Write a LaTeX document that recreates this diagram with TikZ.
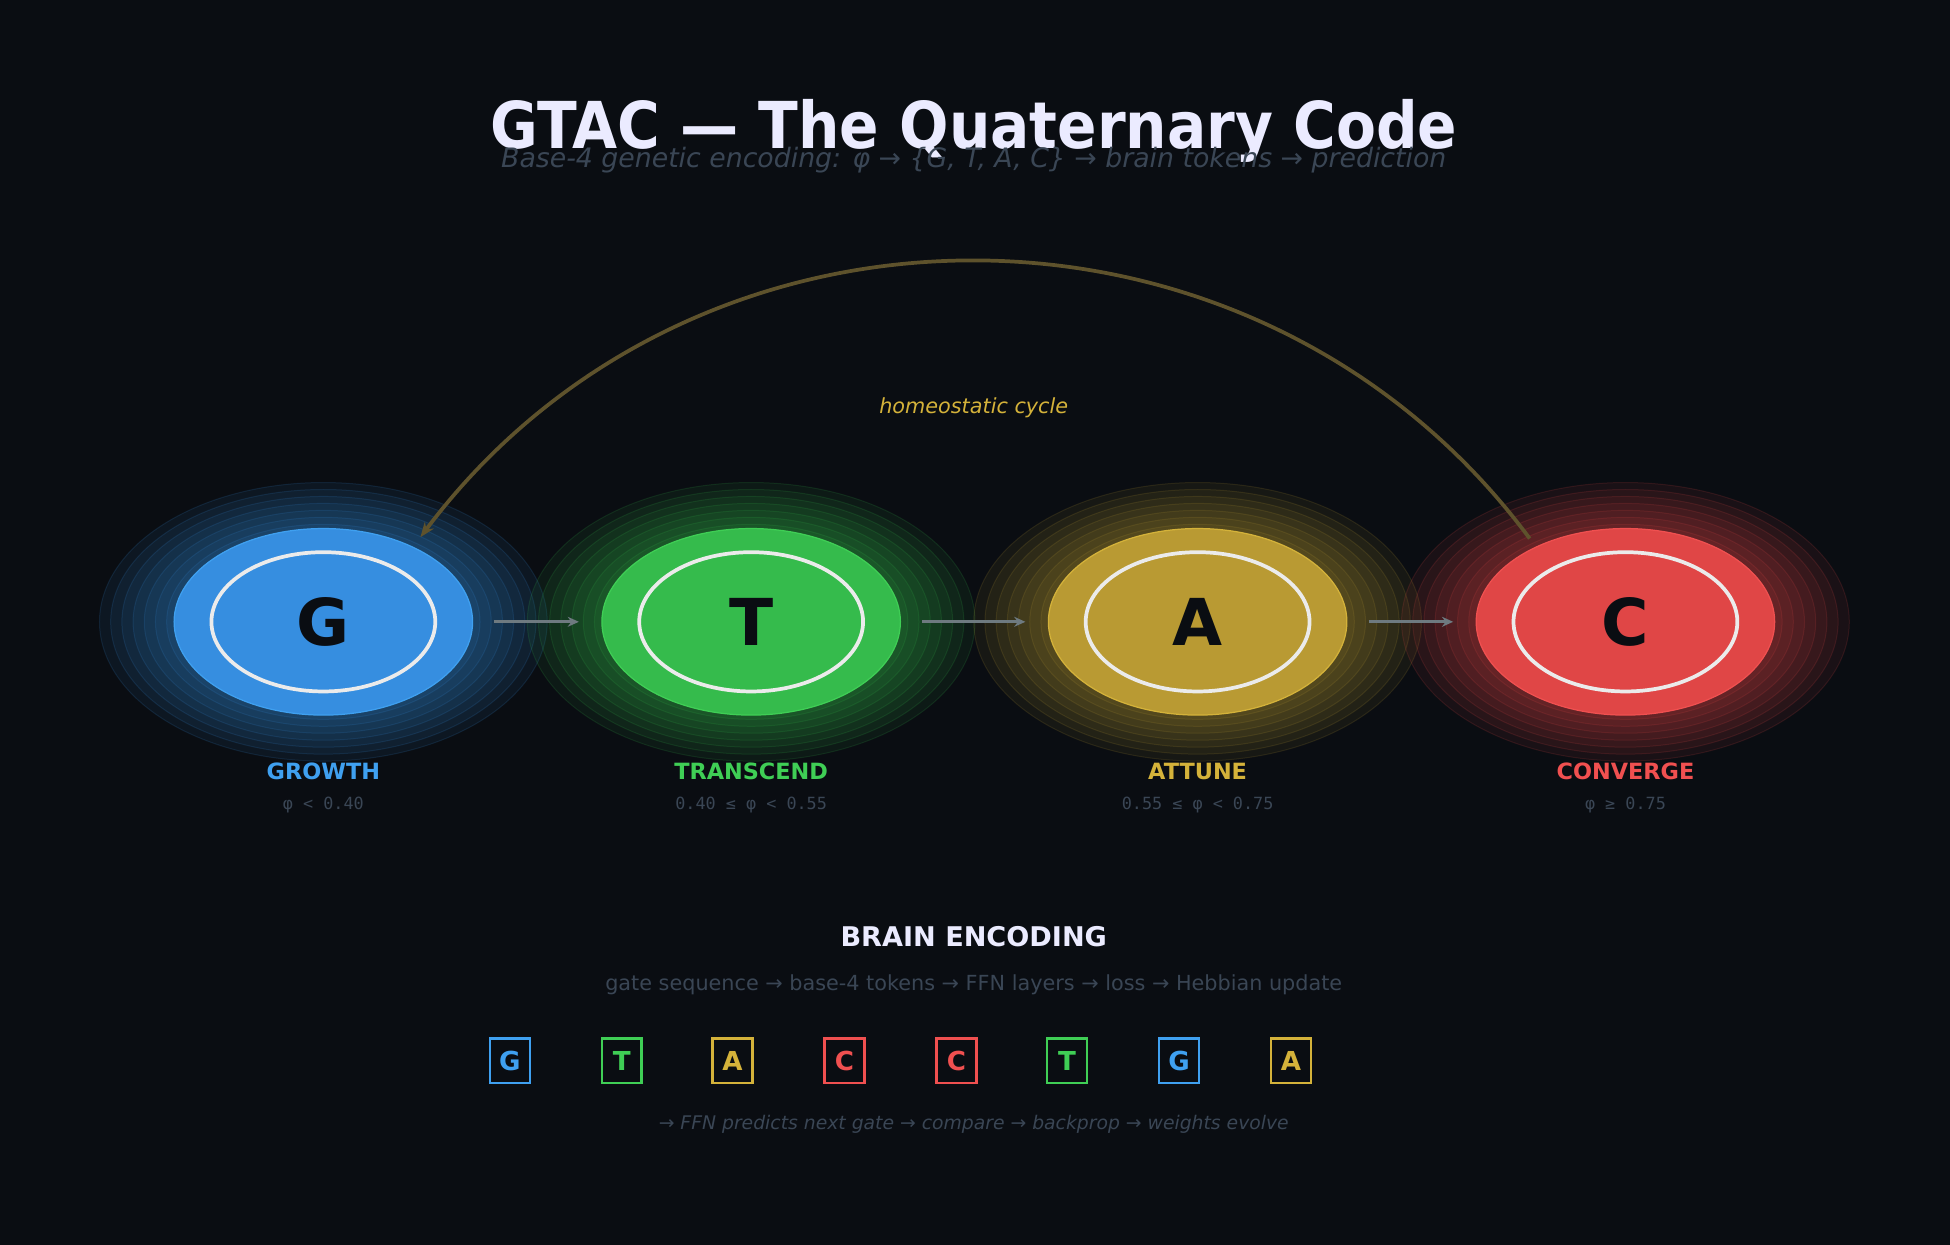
\documentclass[tikz,border=0pt]{standalone}
\usepackage{fontspec}
\setmainfont{DejaVu Sans}
\setmonofont{DejaVu Sans Mono}
\usetikzlibrary{shapes.geometric,arrows.meta,calc}
\definecolor{bg}{HTML}{0A0D12}
\definecolor{dim}{HTML}{3A4655}
\definecolor{cB}{HTML}{368EE0}\definecolor{lB}{HTML}{3FA0F0}
\definecolor{cG}{HTML}{35BB4C}\definecolor{lG}{HTML}{3FCE55}
\definecolor{cA}{HTML}{B99A33}\definecolor{lA}{HTML}{D4B23A}
\definecolor{cC}{HTML}{E04646}\definecolor{lC}{HTML}{F05050}
\definecolor{arc}{HTML}{5E522C}
\definecolor{conn}{HTML}{6E7A80}
\begin{document}
\begin{tikzpicture}[x=1pt,y=-1pt,
  core/.style={ellipse,minimum width=240,minimum height=150,inner sep=0,font=\bfseries\fontsize{52}{52}\selectfont,text=bg},
  ring/.style={draw=white!92!black,line width=3},
  lab/.style={font=\bfseries\fontsize{18}{18}\selectfont},
  rng/.style={font=\ttfamily\fontsize{13.5}{13.5}\selectfont,text=dim},
  flow/.style={draw=conn,line width=2.5,-{Stealth[length=9,width=8]}},
  tok/.style={draw=#1,line width=2,minimum width=32,minimum height=36,inner sep=0,text=#1,font=\bfseries\fontsize{21}{21}\selectfont}]
\fill[bg] (0,0) rectangle (1568,1001);
\useasboundingbox (0,0) rectangle (1568,1001);
\node[text=white!92!blue,font=\bfseries\fontsize{52}{52}\selectfont,xscale=0.9] (title) at (783,105) {GTAC — The Quaternary Code};
\node[text=dim,font=\itshape\fontsize{21.5}{21.5}\selectfont] (sub) at (783,129) {Base-4 genetic encoding: φ → \{G, T, A, C\} → brain tokens → prediction};
\foreach \n/\x/\c/\l/\t/\name/\r in {g/260/cB/lB/G/GROWTH/{φ < 0.40},t/604/cG/lG/T/TRANSCEND/{0.40 ≤ φ < 0.55},a/963/cA/lA/A/ATTUNE/{0.55 ≤ φ < 0.75},c/1307/cC/lC/C/CONVERGE/{φ ≥ 0.75}}{
  \foreach \k in {0,...,6}{
    \fill[\c,fill opacity=0.08] (\x,500) ellipse ({180-\k*9} and {112-\k*5.6});
    \draw[\c,opacity=0.15,line width=0.8] (\x,500) ellipse ({180-\k*9} and {112-\k*5.6});
  }
  \node[core,fill=\c,draw=\l,line width=1] (\n) at (\x,500) {\t};
  \draw[ring] (\n.center) ellipse (90 and 56);
  \node[lab,text=\l] (\n lab) at (\x,620) {\name};
  \node[rng] (\n rng) at (\x,647) {\r};
}
\draw[flow] ([xshift=17]g.east) -- ([xshift=-18]t.west);
\draw[flow] ([xshift=17]t.east) -- ([xshift=-18]a.west);
\draw[flow] ([xshift=17]a.east) -- ([xshift=-18]c.west);
\coordinate (arcS) at ($(c.center)+(-77,-67)$);
\coordinate (arcE) at ($(g.center)+(78,-68)$);
\draw[arc,line width=3,-{Stealth[length=12,width=9]}] (arcS) .. controls (1010,136) and (560,136) .. (arcE);
\node[text=lA,font=\itshape\fontsize{16.7}{16.7}\selectfont] (cyc) at (783,328) {homeostatic cycle};
\node[text=white!92!blue,font=\bfseries\fontsize{21.8}{21.8}\selectfont] (be) at (783,753) {BRAIN ENCODING};
\node[text=dim,font=\fontsize{16.7}{16.7}\selectfont] (bes) at (783,792) {gate sequence → base-4 tokens → FFN layers → loss → Hebbian update};
\foreach \i/\x/\c/\t in {1/410/lB/G,2/500/lG/T,3/589/lA/A,4/679/lC/C,5/769/lC/C,6/858/lG/T,7/948/lB/G,8/1038/lA/A}{
  \node[tok=\c] (tok\i) at (\x,853) {\t};
}
\node[text=dim,font=\itshape\fontsize{15.1}{15.1}\selectfont] (foot) at (783,904) {→ FFN predicts next gate → compare → backprop → weights evolve};
\end{tikzpicture}
\end{document}
